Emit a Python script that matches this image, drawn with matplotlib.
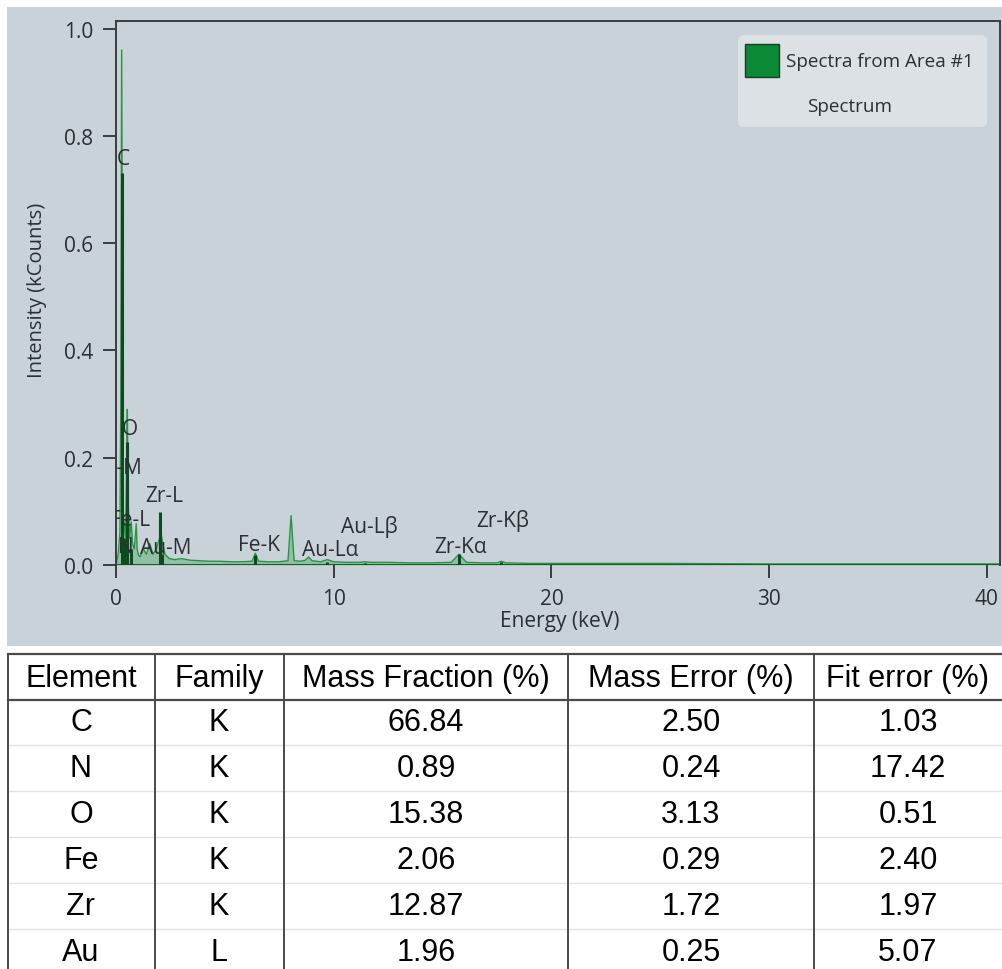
"""
EDS spectrum (Spectra from Area #1) with the quantification table below.
Output: out.png
"""
import matplotlib.pyplot as plt
from matplotlib.patches import Rectangle, FancyBboxPatch

# -- spectrum (keV, kCounts) --------------------------------------------------
energy = [0.00, 0.10, 0.18, 0.22, 0.26, 0.30, 0.34, 0.39, 0.44, 0.49, 0.52,
          0.56, 0.62, 0.70, 0.76, 0.84, 0.93, 0.97, 1.02, 1.10, 1.25, 1.40,
          1.55, 1.70, 1.85, 2.00, 2.07, 2.14, 2.25, 2.45, 2.70, 3.00, 3.40,
          3.80, 4.30, 4.80, 5.30, 5.80, 6.25, 6.40, 6.55, 7.00, 7.50, 7.90,
          8.04, 8.18, 8.50, 8.70, 8.85, 9.00, 9.40, 9.70, 10.0, 10.6, 11.2,
          11.45, 11.7, 12.5, 13.5, 14.5, 15.4, 15.75, 16.1, 16.8, 17.5, 17.7,
          17.9, 19.0, 21.0, 25.0, 30.0, 35.0, 40.6]
counts = [0.000, 0.020, 0.060, 0.300, 0.960, 0.400, 0.090, 0.070, 0.050,
          0.200, 0.290, 0.120, 0.050, 0.080, 0.040, 0.030, 0.077, 0.030,
          0.020, 0.015, 0.030, 0.020, 0.040, 0.020, 0.030, 0.050, 0.060,
          0.040, 0.020, 0.012, 0.010, 0.012, 0.009, 0.008, 0.007, 0.007,
          0.006, 0.006, 0.007, 0.022, 0.007, 0.006, 0.006, 0.008, 0.092,
          0.008, 0.007, 0.009, 0.015, 0.008, 0.006, 0.010, 0.006, 0.005,
          0.005, 0.006, 0.005, 0.005, 0.004, 0.004, 0.005, 0.020, 0.005,
          0.004, 0.004, 0.007, 0.004, 0.003, 0.003, 0.003, 0.002, 0.002,
          0.002]

# identified lines: position (keV), marker height, label position
line_names = ['C', 'N', 'O', 'Fe-L', 'Zr-L', 'Au-M', 'Fe-K', 'Au-L\u03b1',
              'Au-L\u03b2', 'Zr-K\u03b1', 'Zr-K\u03b2', 'Zr-M']
line_e = [0.277, 0.392, 0.525, 0.705, 2.04, 2.12, 6.40, 9.71, 11.44,
          15.77, 17.67, 0.60]
line_h = [0.73, 0.05, 0.23, 0.03, 0.099, 0.02, 0.018, 0.006, 0.004,
          0.02, 0.005, 0.0]
label_x = [0.05, 0.09, 0.28, 1.56, 1.33, 1.10, 5.60, 8.54, 10.33, 14.60,
           16.54, 1.19]
label_y = [0.757, 0.034, 0.255, 0.084, 0.129, 0.032, 0.039, 0.028, 0.073,
           0.035, 0.084, 0.181]
label_ha = ['left', 'left', 'left', 'right', 'left', 'left', 'left', 'left',
            'left', 'left', 'left', 'right']

# -- quantification table -------------------------------------------------------
col_names = ['Element', 'Family', 'Mass Fraction (%)', 'Mass Error (%)',
             'Fit error (%)']
elements = ['C', 'N', 'O', 'Fe', 'Zr', 'Au']
family = ['K', 'K', 'K', 'K', 'K', 'L']
mass_fraction = ['66.84', '0.89', '15.38', '2.06', '12.87', '1.96']
mass_error = ['2.50', '0.24', '3.13', '0.29', '1.72', '0.25']
fit_error = ['1.03', '17.42', '0.51', '2.40', '1.97', '5.07']

# -- style -------------------------------------------------------------------------
W, H = 1002, 970
panel_bg = '#c9d1d9'
ink = '#2b2f33'
plt.rcParams['font.family'] = ['Open Sans', 'DejaVu Sans']

fig = plt.figure(figsize=(W / 100, H / 100), dpi=100)
fig.patch.set_facecolor('white')

# grey panel behind the spectrum (pixel coords -> figure fraction)
fig.patches.append(Rectangle((7 / W, 1 - 647 / H), (W - 7) / W, (647 - 8) / H,
                             transform=fig.transFigure, facecolor=panel_bg,
                             edgecolor='none', zorder=-10))

ax = fig.add_axes([116 / W, 1 - 566 / H, 884 / W, 544 / H])
ax.set_facecolor(panel_bg)
ax.fill_between(energy, counts, 0, color='#3da857', alpha=0.4, lw=0)
ax.plot(energy, counts, color='#2a9445', lw=1.0)
ax.axhline(0, color='#1f5a2d', lw=2.2, zorder=3)
ax.vlines(line_e, 0, line_h, color='#0e4a1f', lw=2.2, zorder=4)
for name, x, y, ha in zip(line_names, label_x, label_y, label_ha):
    ax.text(x, y, name, ha=ha, va='center', fontsize=15, color=ink,
            clip_on=True, zorder=5)

ax.set_xlim(0, 40.6)
ax.set_ylim(0, 1.014)
ax.set_xticks([0, 10, 20, 30, 40])
ax.set_yticks([0.0, 0.2, 0.4, 0.6, 0.8, 1.0])
ax.set_yticklabels(['0.0', '0.2', '0.4', '0.6', '0.8', '1.0'])
ax.tick_params(direction='out', length=9.5, width=1.4, color='#3a3d40',
               labelsize=15, labelcolor=ink, pad=7)
for side in ['top', 'left', 'right']:
    ax.spines[side].set_color('#3a3d40')
    ax.spines[side].set_linewidth(1.4)
ax.spines['bottom'].set_visible(False)

ax.set_xlabel('Energy (keV)', fontsize=15, color=ink)
ax.set_ylabel('Intensity (kCounts)', fontsize=14.5, color=ink)
ax.xaxis.set_label_coords(0.502, -0.083)
ax.yaxis.set_label_coords(-0.078, 0.507)

# legend box, drawn by hand (patch + two centred rows)
fig.patches.append(FancyBboxPatch((738 / W, 1 - 128 / H), 249 / W, 92 / H,
                                  boxstyle='round,pad=0,rounding_size=0.006',
                                  transform=fig.transFigure,
                                  facecolor='#dce1e6', edgecolor='none',
                                  zorder=5))
fig.patches.append(Rectangle((745 / W, 1 - 78 / H), 34 / W, 33 / H,
                             transform=fig.transFigure, facecolor='#0a8a34',
                             edgecolor='#1d3b25', lw=1.0, zorder=6))
fig.text(786 / W, 1 - 62 / H, 'Spectra from Area #1', ha='left', va='center',
         fontsize=13.6, color=ink, zorder=7)
fig.text(850 / W, 1 - 107 / H, 'Spectrum', ha='center', va='center',
         fontsize=13.6, color=ink, zorder=7)

# -- table, in pixel coordinates ---------------------------------------------------
tx = fig.add_axes([0, 0, 1, 323 / H])
tx.set_xlim(0, W)
tx.set_ylim(H, 647)
tx.axis('off')

col_edges = [8, 155, 284, 568, 814]
col_centres = [81, 219, 426, 691, 908]
header_y = 679
row_y = [723, 769, 815, 861, 907, 953]
table_font = ['Liberation Sans', 'DejaVu Sans']

tx.plot([8, W], [655, 655], color='#4a4a4a', lw=1.6)
tx.plot([8, W], [701, 701], color='#4a4a4a', lw=1.6)
for yb in [746, 792, 838, 884, 930]:
    tx.plot([8, W], [yb, yb], color='#e2e2e2', lw=1.0)
for xe in col_edges:
    tx.plot([xe, xe], [655, H], color='#4a4a4a', lw=1.4)

for xc, name in zip(col_centres, col_names):
    tx.text(xc, header_y, name, ha='center', va='center', fontsize=22,
            family=table_font, color='black')
columns = [elements, family, mass_fraction, mass_error, fit_error]
for xc, col in zip(col_centres, columns):
    for yc, val in zip(row_y, col):
        tx.text(xc, yc, val, ha='center', va='center', fontsize=22,
                family=table_font, color='black')

fig.savefig('out.png', dpi=100, facecolor='white')
